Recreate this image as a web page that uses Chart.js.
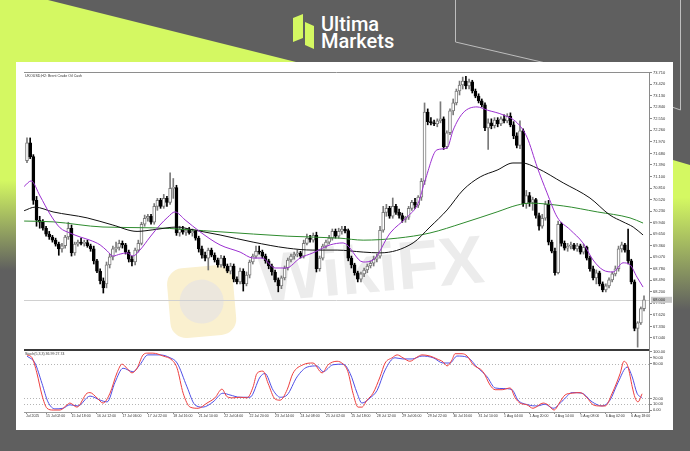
<!DOCTYPE html>
<html>
<head>
<meta charset="utf-8">
<script src="https://cdn.jsdelivr.net/npm/chart.js@4.4.1/dist/chart.umd.min.js"></script>
<style>
  html, body { margin: 0; padding: 0; }
  body { width: 690px; height: 451px; position: relative; overflow: hidden; background: #5f5f5f; }
  svg, canvas { position: absolute; left: 0; top: 0; }
  #panel { position: absolute; left: 16px; top: 62px; width: 657px; height: 368px; background: #fff; }
  #main { left: 24px; top: 62px; }
  #stoch { left: 24px; top: 345px; }
</style>
</head>
<body>
<svg width="690" height="451" viewBox="0 0 690 451">
  <defs>
    <linearGradient id="limeL" gradientUnits="userSpaceOnUse" x1="0" y1="0" x2="0" y2="451">
      <stop offset="0.4" stop-color="#d4f862"/><stop offset="0.6" stop-color="#5f5f5f"/>
    </linearGradient>
    <linearGradient id="limeR" gradientUnits="userSpaceOnUse" x1="0" y1="160" x2="0" y2="310">
      <stop offset="0.25" stop-color="#d4f862"/><stop offset="1" stop-color="#5f5f5f"/>
    </linearGradient>
  </defs>
  <rect width="690" height="451" fill="#5f5f5f"/>
  <polygon points="0,0 48,0 296,62 16,62 16,451 0,451" fill="url(#limeL)"/>
  <polygon points="673,160 690,165 690,451 673,451" fill="url(#limeR)"/>
  <polyline points="455.5,0 455.5,42 550,64" fill="none" stroke="#bdbdbd" stroke-width="1"/>
  <polyline points="680.5,0 680.5,110 672,107" fill="none" stroke="#bdbdbd" stroke-width="1"/>
  <polygon points="293,18 303,14 303,38 293,42" fill="#d4f862"/>
  <polygon points="305,22 314,26 314,49 305,45" fill="#d4f862"/>
  <text x="321" y="31" font-family="Roboto" font-weight="500" font-size="20" fill="#fff">Ultima</text>
  <text x="321" y="48" font-family="Roboto" font-weight="500" font-size="20" fill="#fff">Markets</text>
</svg>
<div id="panel"></div>
<svg width="690" height="451" viewBox="0 0 690 451">
  <g transform="rotate(-5 300 290)">
    <rect x="168" y="258" width="66" height="70" rx="16" fill="#faf0cf"/>
    <circle cx="201" cy="293" r="22" fill="#ece7dd"/>
  </g>
  <text x="373" y="292" text-anchor="middle" transform="rotate(-5 373 292)" font-family="Liberation Sans" font-weight="bold" font-size="68" fill="#ececec">WikiFX</text>
</svg>
<canvas id="main" width="649" height="297"></canvas>
<canvas id="stoch" width="649" height="80"></canvas>
<script>
const chartTitle = 'UKOUSD,H2: Brent Crude Oil Cash';
const stochTitle = 'Stoch(5,3,3) 36.99 27.74';

// H2 candles (bar 0 = leftmost)
const candleOpen = [
  71.50,71.95,71.60,70.50,70.00,69.95,69.80,69.65,69.58,69.50,
  69.40,69.28,69.36,69.58,69.80,69.18,69.40,69.45,69.42,69.44,
  69.36,69.28,68.98,68.72,68.48,68.40,68.88,69.08,69.28,69.32,
  69.42,69.38,69.20,69.02,68.95,69.25,69.42,69.90,70.05,70.10,
  69.95,70.35,70.50,70.35,70.55,70.45,70.80,70.82,69.68,69.78,
  69.70,69.75,69.68,69.72,69.55,69.28,69.12,69.05,69.25,69.12,
  69.00,68.88,69.05,68.85,68.72,68.85,68.52,68.45,68.72,68.40,
  68.62,68.95,69.10,69.22,69.20,69.10,68.98,68.85,68.70,68.50,
  68.35,68.55,68.80,69.00,69.10,69.15,69.18,69.10,69.42,69.55,
  69.50,69.62,68.78,69.05,69.35,69.45,69.55,69.72,69.60,69.72,
  69.78,69.74,69.05,68.88,68.68,68.52,68.65,68.75,68.85,68.92,
  69.02,69.10,69.75,70.20,70.30,70.10,70.35,70.20,70.12,70.02,
  70.08,70.30,70.45,70.38,70.58,70.98,72.72,72.48,72.45,72.42,
  72.50,72.55,71.85,72.20,72.75,72.95,73.25,73.40,73.50,73.38,
  73.48,73.25,73.12,73.00,72.90,72.32,72.45,72.38,72.52,72.42,
  72.55,72.50,72.62,72.40,72.12,71.88,72.25,70.42,70.62,70.45,
  70.52,70.12,69.85,70.05,70.40,69.45,69.22,68.68,69.90,69.42,
  69.30,69.35,69.38,69.28,69.36,69.20,69.32,69.05,68.78,68.55,
  68.68,68.40,68.25,68.35,68.50,68.65,68.78,69.28,69.38,69.25,
  68.98,68.45,67.28,67.42,67.78
];
const candleHigh = [
  72.07,72.07,71.65,70.60,70.10,70.02,69.85,69.72,69.62,69.55,
  69.45,69.42,69.62,69.95,69.88,69.45,69.50,69.55,69.50,69.50,
  69.40,69.35,69.02,68.78,68.55,68.95,69.15,69.35,69.45,69.50,
  69.48,69.42,69.25,69.10,69.30,69.50,69.95,70.13,70.15,70.15,
  70.42,70.55,70.55,70.65,70.60,71.19,71.05,70.88,69.85,69.85,
  69.80,69.82,69.78,69.75,69.60,69.35,69.20,69.30,69.30,69.18,
  69.05,69.12,69.10,68.90,68.92,68.90,68.58,68.80,68.78,68.70,
  69.00,69.15,69.35,69.35,69.25,69.15,69.02,68.90,68.75,68.55,
  68.60,68.85,69.05,69.15,69.20,69.25,69.22,69.50,69.65,69.62,
  69.68,69.70,69.10,69.40,69.50,69.62,69.78,69.78,69.80,69.85,
  69.85,69.78,69.10,68.92,68.72,68.70,68.80,68.90,68.98,69.10,
  69.15,69.85,70.35,70.40,70.35,70.56,70.40,70.28,70.18,70.10,
  70.35,70.50,70.55,70.62,71.05,72.95,72.80,72.58,72.52,72.55,
  72.98,72.60,72.25,72.80,73.05,73.30,73.50,73.60,73.62,73.55,
  73.52,73.30,73.18,73.05,72.95,72.55,72.55,72.58,72.58,72.60,
  72.65,72.68,72.70,72.48,72.20,72.50,72.30,70.75,70.70,70.58,
  70.55,70.18,70.15,70.48,70.50,69.50,69.30,69.98,69.95,69.48,
  69.42,69.45,69.42,69.42,69.40,69.40,69.35,69.10,68.85,68.75,
  68.72,68.45,68.40,68.55,68.70,68.85,69.35,69.45,69.42,69.78,
  69.02,68.50,67.45,67.82,68.10
];
const candleLow = [
  71.45,71.55,70.40,69.85,69.80,69.75,69.60,69.52,69.45,69.35,
  69.12,69.20,69.30,69.52,69.10,69.12,69.35,69.38,69.35,69.32,
  69.22,68.90,68.68,68.40,68.17,68.30,68.80,69.00,69.20,69.25,
  69.30,69.15,68.95,68.85,68.88,69.20,69.38,69.85,69.98,69.90,
  69.90,70.25,70.30,70.30,70.35,70.40,70.55,69.62,69.60,69.65,
  69.62,69.65,69.60,69.50,69.20,69.05,68.98,68.75,69.08,68.95,
  68.82,68.82,68.80,68.68,68.65,68.45,68.40,68.40,68.22,68.35,
  68.55,68.90,69.05,69.15,69.05,68.92,68.78,68.62,68.45,68.20,
  68.28,68.50,68.75,68.95,69.02,69.08,69.05,69.05,69.38,69.45,
  69.45,68.70,68.72,69.00,69.30,69.40,69.50,69.55,69.55,69.65,
  69.68,68.98,68.80,68.62,68.45,68.45,68.58,68.68,68.80,68.85,
  68.95,69.05,69.70,70.10,70.05,70.05,70.15,70.05,69.95,69.95,
  70.02,70.25,70.30,70.32,70.50,70.90,72.40,72.40,72.38,72.35,
  72.45,71.78,71.80,72.15,72.65,72.90,73.15,73.30,73.30,73.30,
  73.20,73.08,72.95,72.85,72.25,71.78,72.30,72.32,72.35,72.38,
  72.45,72.45,72.35,72.05,71.82,71.80,70.35,70.30,70.35,70.25,
  70.05,69.75,69.80,70.00,69.38,69.18,68.62,68.65,69.35,69.25,
  69.22,69.28,69.25,69.22,69.15,69.15,69.00,68.72,68.50,68.40,
  68.35,68.20,68.20,68.30,68.45,68.60,68.72,69.20,69.20,68.90,
  68.40,67.22,66.81,67.38,67.72
];
const candleClose = [
  71.95,71.60,70.50,70.00,69.95,69.80,69.65,69.58,69.50,69.40,
  69.28,69.36,69.58,69.80,69.18,69.40,69.45,69.42,69.44,69.36,
  69.28,68.98,68.72,68.48,68.30,68.88,69.08,69.28,69.32,69.42,
  69.38,69.20,69.02,68.95,69.25,69.42,69.90,70.05,70.10,69.95,
  70.35,70.50,70.35,70.55,70.45,70.80,70.82,69.68,69.78,69.70,
  69.75,69.68,69.72,69.55,69.28,69.12,69.05,69.25,69.12,69.00,
  68.88,69.05,68.85,68.72,68.85,68.52,68.45,68.72,68.40,68.62,
  68.95,69.10,69.22,69.20,69.10,68.98,68.85,68.70,68.50,68.35,
  68.55,68.80,69.00,69.10,69.15,69.18,69.10,69.42,69.55,69.52,
  69.62,68.78,69.05,69.35,69.45,69.55,69.72,69.60,69.72,69.78,
  69.74,69.05,68.88,68.68,68.52,68.65,68.75,68.85,68.92,69.02,
  69.08,69.75,70.20,70.30,70.10,70.35,70.20,70.12,70.02,70.08,
  70.30,70.45,70.38,70.58,70.98,72.72,72.48,72.45,72.42,72.50,
  72.55,71.85,72.20,72.75,72.95,73.25,73.40,73.50,73.38,73.48,
  73.25,73.12,73.00,72.90,72.32,72.45,72.38,72.52,72.42,72.55,
  72.50,72.62,72.40,72.12,71.88,72.25,70.42,70.62,70.45,70.52,
  70.12,69.85,70.05,70.40,69.45,69.22,68.68,69.90,69.42,69.30,
  69.35,69.38,69.28,69.36,69.20,69.32,69.05,68.78,68.55,68.68,
  68.40,68.25,68.35,68.50,68.65,68.78,69.28,69.38,69.25,68.98,
  68.45,67.28,67.42,67.78,68.00
];

// moving averages, read at bar positions
const fastMaAt = [-0.9,1.3,4.1,7.2,10.4,13.5,16.7,19.8,23,25.2,27,29.3,31.5,33.3,35.5,38.7,41.8,44.3,46.5,49.7,
  54.4,60.7,67,71.1,73.9,78,81.5,85.9,89.9,95.3,99.4,105.7,108.8,114.2,119.5,123,125.2,128.9,132.1,134,
  137.1,141.5,144.7,149.7,154.1,157.2,160.4,163.5,166.7,170.8,174.8,178,181.1,184.3,187.4,189.6,191.8,193.7];
const fastMa = [70.85,70.99,70.61,70.16,69.81,69.68,69.58,69.50,69.38,69.23,69.10,69.15,69.18,69.10,69.25,69.58,69.88,70.08,70.21,70.01,
  69.71,69.38,69.20,69.05,69.05,68.80,68.80,69.05,69.18,69.38,69.43,68.95,69.00,69.68,70.08,70.43,71.01,71.77,71.82,72.27,
  72.70,72.85,72.77,72.65,72.45,72.09,71.34,70.69,70.08,69.76,69.43,69.00,68.75,68.70,68.93,68.88,68.57,68.32];
const slowMaAt = [-0.9,2.5,8.2,18.9,27,34.6,39.6,47.2,52.2,60.7,71.1,81.8,89.9,97.5,105.7,111,121.4,126.7,132.1,137.1,
  142.5,147.8,152.8,155.7,160.4,168.6,177,183.3,187.4,190.6,193.7];
const slowMa = [70.24,70.33,70.21,70.06,69.88,69.72,69.76,69.83,69.76,69.63,69.45,69.30,69.25,69.25,69.20,69.18,69.43,69.83,70.26,70.76,
  71.09,71.26,71.44,71.44,71.31,70.94,70.56,70.13,69.96,69.83,69.63];
const longMaAt = [-0.9,8.2,23.9,39.6,60.7,81.8,98.4,105.7,116.4,126.7,137.1,147.8,154.1,158.2,168.6,179.3,189.6,193.7];
const longMa = [69.98,69.96,69.83,69.81,69.71,69.60,69.55,69.50,69.55,69.68,69.93,70.21,70.38,70.43,70.36,70.21,70.06,69.93];

// stochastic oscillator
const stochKAt = [0,1.6,3.1,4.7,6.3,8.2,10.4,12.6,13.5,15.7,18.9,19.8,22,23.9,26.1,28.3,29.9,31.4,33,34.6,
  36.5,38,39.6,42.8,45.6,47.2,49.1,51.3,53.8,56.6,59.1,61.3,62.9,64.8,67,69.2,71.1,72.3,74.2,75.8,
  78,79.6,81.8,83.6,86.8,89.9,92.8,94.7,97.5,99.4,100.9,102.5,104.1,105.3,106.9,108.8,111,112.6,114.8,116.4,
  118.2,120.4,122.6,124.2,126.7,128.9,130.8,132.1,133.6,134.6,136.8,138.4,140.3,143.4,145.6,147.2,149.4,151.9,153.5,155,
  157.2,159.1,162.3,163.8,165.7,167.6,169.2,171.4,173.9,176.1,178,180.2,181.8,184,186.5,187.7,189,190.3,191.2,192.1,193.4];
const stochK = [95,90,64,26,3,0,0,9,12,5,29,30,21,12,29,64,79,72,64,72,
  95,98,98,93,86,72,29,5,3,12,21,36,23,21,22,21,40,63,67,46,
  19,17,35,63,78,81,64,78,84,79,66,29,5,5,17,29,57,81,90,95,
  90,84,91,95,93,88,83,76,86,97,97,93,78,66,43,35,35,38,21,12,
  9,3,12,9,0,14,26,29,30,21,9,7,7,29,63,84,74,40,21,14,28];
const stochDAt = [0,2.5,4.7,6.6,8.8,11.3,13.5,16,19.8,23,25.2,27.7,30.2,33.3,35.5,38,41.8,45,47.2,50.3,
  52.8,55.3,58.5,61.6,63.8,67,70.1,73.3,74.8,77.4,79.6,81.8,84.9,88.1,91.2,93.1,96.2,99.4,101.6,103.8,
  105.3,107.9,110.1,112.6,115.7,118.2,121.1,124.2,127.7,130.8,133,135.2,138.4,141.5,144.7,147.2,149.7,152.5,154.4,157.5,
  160.4,162.9,165.4,168.6,171.4,174.5,177.7,180.8,183.3,185.8,188.7,190.3,191.8,193.4];
const stochD = [93,81,46,14,2,3,9,7,24,17,14,48,72,66,78,95,95,90,81,40,
  9,5,14,29,26,22,22,57,63,34,22,26,57,74,76,66,78,79,63,29,
  12,21,34,69,90,88,88,93,90,81,81,93,91,74,57,38,37,35,17,9,
  7,10,3,17,30,29,14,7,17,47,74,57,29,21];
const stochLevels = [10, 20, 80];
const stochTicks = [0, 10, 20, 80, 90, 100];

// axes
const priceTicks = [67.04,67.33,67.62,67.91,68.20,68.49,68.78,69.07,69.36,69.65,69.94,70.23,
  70.52,70.81,71.10,71.39,71.68,71.97,72.26,72.55,72.84,73.13,73.42,73.71];
const timeTickAt = [-0.3,6,14,22,30,38,46,54,62,70,78,86,94,102,110,118,126,134,142,150,158,166,174,182,190];
const timeLabels = ['Jul 2025','15 Jul 02:00','15 Jul 18:00','16 Jul 12:00','17 Jul 06:00','17 Jul 22:00',
  '18 Jul 16:00','21 Jul 10:00','22 Jul 04:00','22 Jul 20:00','23 Jul 14:00','24 Jul 08:00','25 Jul 02:00',
  '25 Jul 18:00','28 Jul 12:00','29 Jul 06:00','29 Jul 22:00','30 Jul 16:00','31 Jul 10:00','1 Aug 04:00',
  '1 Aug 20:00','4 Aug 14:00','5 Aug 08:00','6 Aug 02:00','6 Aug 18:00'];

const xMin = -0.94, xMax = 195.57;
const font = 'Liberation Sans';
Chart.defaults.font.family = font;

const toPoints = (at, vals) => at.map((x, k) => ({ x, y: vals[k] }));
const isBull = (i) => candleClose[i] >= candleOpen[i];

const bodies = candleClose.map((c, i) => ({ x: i, y: [candleOpen[i], c] }));
const wicks = candleLow.map((l, i) => ({ x: i, y: [l, candleHigh[i]] }));
const bodyFill = candleClose.map((c, i) => isBull(i) ? '#ffffff' : '#000000');
const bodyEdge = candleClose.map((c, i) => isBull(i) ? '#7a7a7a' : '#000000');

function maLine(at, vals, color) {
  return {
    type: 'line', data: toPoints(at, vals), borderColor: color, borderWidth: 1,
    pointRadius: 0, cubicInterpolationMode: 'monotone', order: 0
  };
}

const mainDecor = {
  id: 'mainDecor',
  beforeDatasetsDraw(chart) {
    const { ctx, chartArea: a, scales: { y } } = chart;
    const py = Math.round(y.getPixelForValue(candleClose[candleClose.length - 1])) + 0.5;
    ctx.save();
    ctx.strokeStyle = '#d0d0d0';
    ctx.lineWidth = 1;
    ctx.beginPath(); ctx.moveTo(a.left, py); ctx.lineTo(a.right, py); ctx.stroke();
    ctx.restore();
  },
  afterDraw(chart) {
    const { ctx, chartArea: a, scales: { y } } = chart;
    const last = candleClose[candleClose.length - 1];
    const py = y.getPixelForValue(last);
    ctx.save();
    ctx.strokeStyle = '#8e8e8e';
    ctx.lineWidth = 1;
    ctx.beginPath(); ctx.moveTo(a.left, a.top + 0.5); ctx.lineTo(a.right, a.top + 0.5); ctx.stroke();
    ctx.fillStyle = '#333';
    ctx.textBaseline = 'middle';
    ctx.font = '3.6px "' + font + '"';
    ctx.fillText(chartTitle, 1, 14);
    ctx.fillStyle = '#c8c8c8';
    ctx.fillRect(a.right + 2, py - 3, 21, 6);
    ctx.fillStyle = '#222';
    ctx.font = '4px "' + font + '"';
    ctx.fillText(last.toFixed(3), a.right + 4, py);
    ctx.restore();
  }
};

new Chart(document.getElementById('main'), {
  type: 'bar',
  data: {
    datasets: [
      maLine(fastMaAt, fastMa, '#9b2fd0'),
      maLine(slowMaAt, slowMa, '#111111'),
      maLine(longMaAt, longMa, '#2e8b2e'),
      {
        data: bodies, backgroundColor: bodyFill, borderColor: bodyEdge, borderWidth: 1,
        borderSkipped: false, barThickness: 3, minBarLength: 1, grouped: false, order: 1
      },
      { data: wicks, backgroundColor: bodyEdge, barThickness: 1, grouped: false, order: 2 }
    ]
  },
  options: {
    responsive: false, animation: false, events: [],
    layout: { padding: { top: 10, bottom: 10, left: 0, right: 0 } },
    plugins: { legend: { display: false }, tooltip: { enabled: false } },
    scales: {
      x: { type: 'linear', min: xMin, max: xMax, offset: false, display: false },
      y: {
        position: 'right', min: 66.763, max: 73.728,
        afterBuildTicks: (s) => { s.ticks = priceTicks.map((v) => ({ value: v })); },
        afterFit: (s) => { s.width = 24; },
        ticks: { autoSkip: false, padding: 1, color: '#333', font: { size: 4 }, callback: (v) => Number(v).toFixed(3) },
        grid: { drawOnChartArea: false, tickLength: 3, color: '#8a8a8a' },
        border: { color: '#8a8a8a' }
      }
    }
  },
  plugins: [mainDecor]
});

const stochDecor = {
  id: 'stochDecor',
  beforeDatasetsDraw(chart) {
    const { ctx, chartArea: a, scales: { y } } = chart;
    ctx.save();
    ctx.strokeStyle = '#b4b4b4';
    ctx.lineWidth = 1;
    ctx.setLineDash([1, 2]);
    stochLevels.forEach((lv) => {
      const py = Math.round(y.getPixelForValue(lv)) + 0.5;
      ctx.beginPath(); ctx.moveTo(a.left, py); ctx.lineTo(a.right, py); ctx.stroke();
    });
    ctx.restore();
  },
  afterDraw(chart) {
    const { ctx, chartArea: a } = chart;
    ctx.save();
    ctx.strokeStyle = '#3a3a3a';
    ctx.lineWidth = 2;
    ctx.beginPath(); ctx.moveTo(a.left, a.top); ctx.lineTo(a.right, a.top); ctx.stroke();
    ctx.fillStyle = '#333';
    ctx.textBaseline = 'middle';
    ctx.font = '3.6px "' + font + '"';
    ctx.fillText(stochTitle, 1, 9);
    ctx.restore();
  }
};

new Chart(document.getElementById('stoch'), {
  type: 'line',
  data: {
    datasets: [
      { data: toPoints(stochKAt, stochK), borderColor: '#ee3e3e', borderWidth: 1, pointRadius: 0, cubicInterpolationMode: 'monotone' },
      { data: toPoints(stochDAt, stochD), borderColor: '#4f4fe6', borderWidth: 1, pointRadius: 0, cubicInterpolationMode: 'monotone' }
    ]
  },
  options: {
    responsive: false, animation: false, events: [],
    layout: { padding: { top: 5, bottom: 0, left: 0, right: 0 } },
    plugins: { legend: { display: false }, tooltip: { enabled: false } },
    scales: {
      x: {
        type: 'linear', min: xMin, max: xMax, offset: false,
        afterBuildTicks: (s) => { s.ticks = timeTickAt.map((v) => ({ value: v })); },
        afterFit: (s) => { s.height = 13; },
        ticks: { autoSkip: false, maxRotation: 0, align: 'start', padding: 0, color: '#333', font: { size: 3.5 },
          callback: (v, i) => timeLabels[i] },
        grid: { drawOnChartArea: false, tickLength: 2, color: '#8a8a8a' },
        border: { color: '#9a9a9a' }
      },
      y: {
        position: 'right', min: -3.4, max: 103.4,
        afterBuildTicks: (s) => { s.ticks = stochTicks.map((v) => ({ value: v })); },
        afterFit: (s) => { s.width = 24; },
        ticks: { autoSkip: false, padding: 1, color: '#333', font: { size: 4 }, callback: (v) => Number(v).toFixed(2) },
        grid: { drawOnChartArea: false, tickLength: 3, color: '#8a8a8a' },
        border: { color: '#8a8a8a' }
      }
    }
  },
  plugins: [stochDecor]
});
</script>
</body>
</html>
